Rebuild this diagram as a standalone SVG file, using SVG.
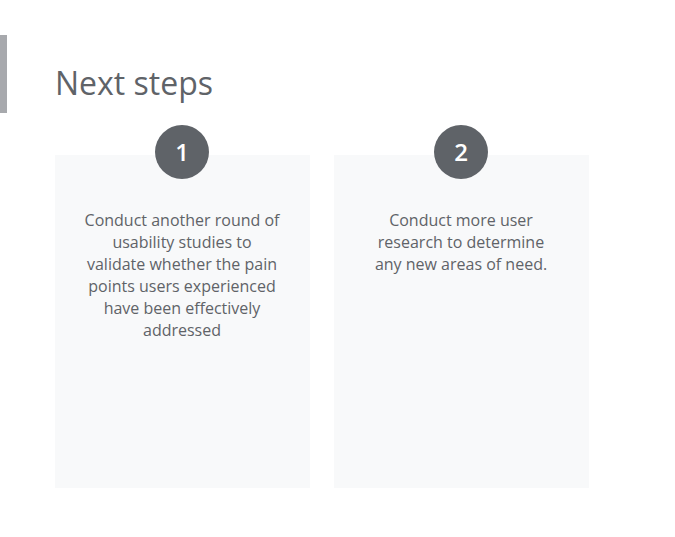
<svg xmlns="http://www.w3.org/2000/svg" width="675" height="537" viewBox="0 0 675 537">
<style>
.card{fill:#f8f9fa}
.badge{fill:#5f6368}
.num{font-family:"Open Sans","Noto Sans",sans-serif;font-size:24px;font-weight:600;fill:#ffffff;text-anchor:middle}
.body{font-family:"Open Sans","Noto Sans",sans-serif;font-size:16px;fill:#5f6368;text-anchor:middle}
.title{font-family:"Open Sans","Noto Sans",sans-serif;font-size:32px;fill:#5f6368}
</style>
<rect width="675" height="537" fill="#ffffff"/>
<rect x="0" y="35" width="7" height="78" fill="#a7a9ad"/>
<text class="title" x="55" y="95">Next steps</text>
<g id="connectors"/>
<g id="step1">
<rect class="card" x="55" y="155" width="255" height="333"/>
<circle class="badge" cx="182" cy="152" r="27"/>
<text class="num" x="182" y="161">1</text>
<text class="body"><tspan x="182" y="226">Conduct another round of</tspan><tspan x="182" y="248">usability studies to</tspan><tspan x="182" y="270">validate whether the pain</tspan><tspan x="182" y="292">points users experienced</tspan><tspan x="182" y="314">have been effectively</tspan><tspan x="182" y="336">addressed</tspan></text>
</g>
<g id="step2">
<rect class="card" x="334" y="155" width="255" height="333"/>
<circle class="badge" cx="461" cy="152" r="27"/>
<text class="num" x="461" y="161">2</text>
<text class="body"><tspan x="461" y="226">Conduct more user</tspan><tspan x="461" y="248">research to determine</tspan><tspan x="461" y="270">any new areas of need.</tspan></text>
</g>
</svg>
